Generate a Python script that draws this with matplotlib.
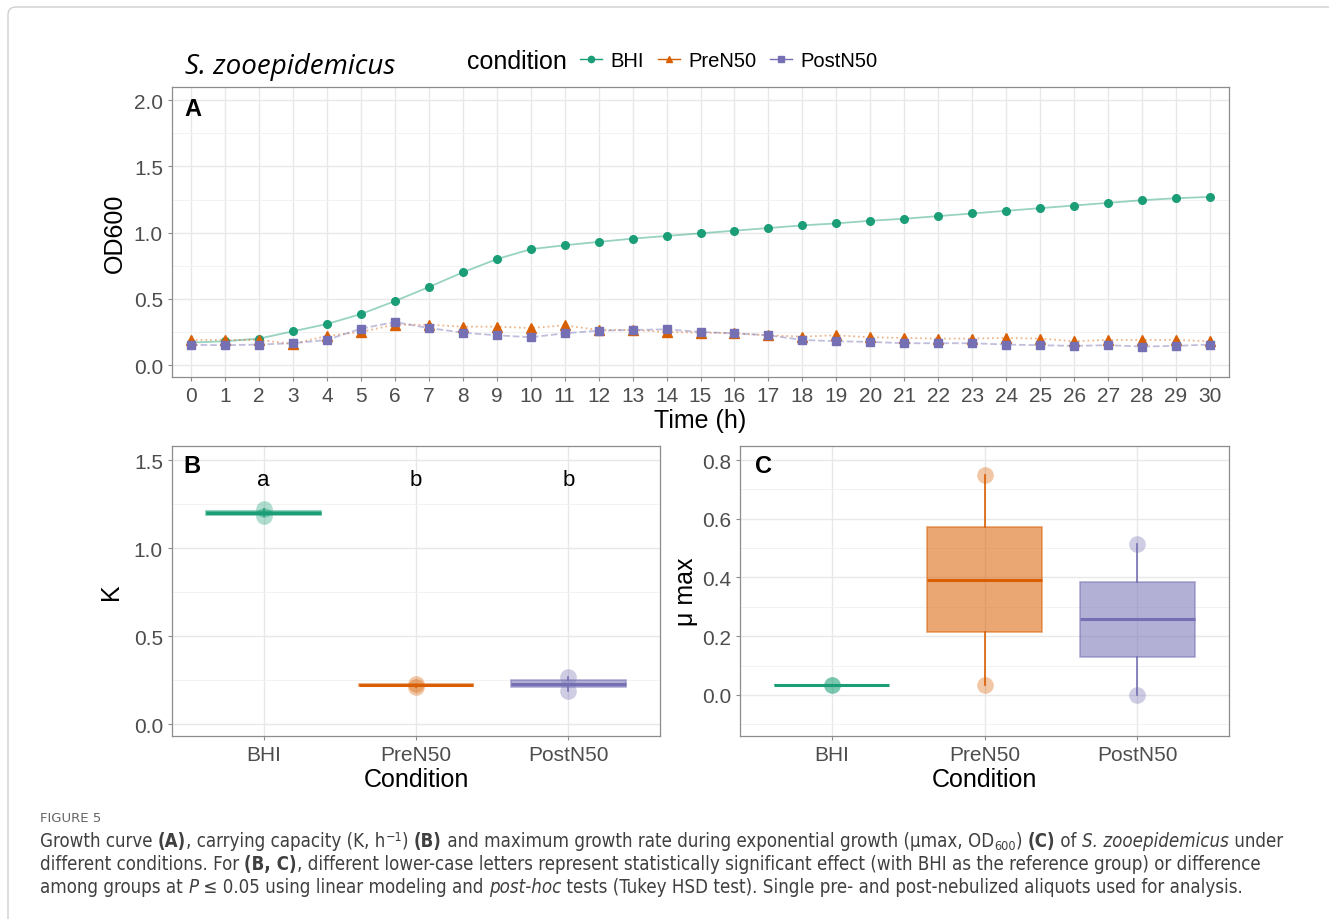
import numpy as np
import matplotlib.pyplot as plt
from matplotlib.lines import Line2D
from matplotlib.patches import FancyBboxPatch
from matplotlib.ticker import MultipleLocator
from matplotlib.transforms import IdentityTransform

plt.rcParams['font.family'] = ['Liberation Sans', 'DejaVu Sans']

# growth curve (panel A)
time_h = list(range(31))
od_bhi = [0.17, 0.18, 0.20, 0.255, 0.31, 0.385, 0.483, 0.589, 0.70, 0.80, 0.875,
          0.905, 0.93, 0.955, 0.975, 0.995, 1.015, 1.035, 1.055, 1.07, 1.09, 1.105,
          1.125, 1.145, 1.165, 1.185, 1.205, 1.225, 1.245, 1.26, 1.27]
od_pre = [0.19, 0.19, 0.19, 0.16, 0.22, 0.25, 0.305, 0.305, 0.29, 0.29, 0.28,
          0.30, 0.265, 0.265, 0.25, 0.245, 0.24, 0.225, 0.215, 0.225, 0.21, 0.205,
          0.20, 0.20, 0.205, 0.20, 0.18, 0.19, 0.19, 0.19, 0.18]
od_post = [0.153, 0.15, 0.155, 0.165, 0.19, 0.275, 0.325, 0.28, 0.245, 0.225, 0.21,
           0.24, 0.26, 0.265, 0.27, 0.25, 0.24, 0.225, 0.19, 0.18, 0.175, 0.165,
           0.165, 0.165, 0.155, 0.15, 0.145, 0.15, 0.14, 0.145, 0.155]

# carrying capacity K (panel B) and mu max (panel C), two aliquots each
conditions = ['BHI', 'PreN50', 'PostN50']
k_bhi = [1.18, 1.22]
k_pre = [0.21, 0.23]
k_post = [0.19, 0.27]
k_letters = ['a', 'b', 'b']
mu_bhi = [0.035, 0.035]
mu_pre = [0.035, 0.75]
mu_post = [0.0, 0.515]

colors = ['#1B9E77', '#D95F02', '#7570B3']
markers = ['o', '^', 's']
lstyles = ['-', ':', '--']

W, H = 1329, 920
fig = plt.figure(figsize=(W / 100, H / 100), dpi=100)


def px_axes(l, t, r, b):
    return fig.add_axes([l / W, 1 - b / H, (r - l) / W, (b - t) / H])


def style(ax):
    for s in ax.spines.values():
        s.set_color('#8c8c8c')
        s.set_linewidth(0.9)
    ax.tick_params(which='major', length=3, width=0.8, color='#8c8c8c',
                   labelcolor='#4d4d4d', labelsize=15)
    ax.tick_params(which='minor', length=0)
    ax.grid(which='major', color='#e8e8e8', lw=1.0)
    ax.grid(which='minor', axis='y', color='#f2f2f2', lw=0.7)
    ax.set_axisbelow(True)


# ---- panel A
axA = px_axes(172, 88, 1229, 378)
series = [od_bhi, od_pre, od_post]
for vals, c, m, ls in zip(series, colors, markers, lstyles):
    axA.plot(time_h, vals, color=c, ls=ls, lw=1.3, alpha=0.45)
    axA.plot(time_h, vals, color=c, ls='none', marker=m,
             markersize=5.5 if m != '^' else 6.5)
axA.set_xlim(-0.56, 30.56)
axA.set_ylim(-0.09, 2.1)
axA.set_xticks(time_h)
axA.set_yticks([0, 0.5, 1.0, 1.5, 2.0])
axA.set_yticklabels(['0.0', '0.5', '1.0', '1.5', '2.0'])
axA.yaxis.set_minor_locator(MultipleLocator(0.25))
style(axA)
axA.set_xlabel('Time (h)', fontsize=18, labelpad=2)
axA.set_ylabel('OD600', fontsize=18, labelpad=5)
axA.text(0.012, 0.925, 'A', transform=axA.transAxes, fontsize=17,
         fontweight='bold', va='center')

# ---- panels B and C
pos = [1, 2, 3]


def box_panel(ax, groups):
    for p, d, c in zip(pos, groups, colors):
        ax.boxplot([d], positions=[p], widths=0.75, patch_artist=True,
                   showcaps=False, showfliers=False,
                   boxprops=dict(facecolor=c, edgecolor=c, alpha=0.55, lw=1.2),
                   medianprops=dict(color=c, lw=2.2),
                   whiskerprops=dict(color=c, lw=1.2))
        ax.plot([p] * len(d), d, ls='none', marker='o', markersize=12,
                color=c, alpha=0.35, markeredgewidth=0)
    ax.set_xlim(0.4, 3.6)
    ax.set_xticks(pos)
    ax.set_xticklabels(conditions)
    style(ax)
    ax.set_xlabel('Condition', fontsize=18, labelpad=2)


axB = px_axes(172, 447, 660, 737)
box_panel(axB, [k_bhi, k_pre, k_post])
axB.set_ylim(-0.068, 1.58)
axB.set_yticks([0, 0.5, 1.0, 1.5])
axB.set_yticklabels(['0.0', '0.5', '1.0', '1.5'])
axB.yaxis.set_minor_locator(MultipleLocator(0.25))
axB.set_ylabel('K', fontsize=18, labelpad=8)
for p, lt in zip(pos, k_letters):
    axB.text(p, 1.39, lt, ha='center', va='center', fontsize=16)
axB.text(0.023, 0.934, 'B', transform=axB.transAxes, fontsize=17,
         fontweight='bold', va='center')

axC = px_axes(740, 447, 1229, 737)
box_panel(axC, [mu_bhi, mu_pre, mu_post])
axC.set_ylim(-0.14, 0.848)
axC.set_yticks([0, 0.2, 0.4, 0.6, 0.8])
axC.set_yticklabels(['0.0', '0.2', '0.4', '0.6', '0.8'])
axC.yaxis.set_minor_locator(MultipleLocator(0.1))
axC.set_ylabel('\u03bc max', fontsize=18, labelpad=3)
axC.text(0.031, 0.934, 'C', transform=axC.transAxes, fontsize=17,
         fontweight='bold', va='center')

# ---- title and legend
fig.text(185 / W, 1 - 67 / H, 'S. zooepidemicus', family=['Open Sans', 'DejaVu Sans'],
         fontstyle='italic', fontsize=20, va='center')
fig.text(467 / W, 1 - 62 / H, 'condition', fontsize=18, va='center')
handles = [Line2D([], [], color=c, marker=m, ls='-', lw=1, markersize=4.5)
           for c, m in zip(colors, markers)]
fig.legend(handles, conditions, ncol=3, loc='center left',
           bbox_to_anchor=(580 / W, 1 - 62 / H), frameon=False, fontsize=14.5,
           handlelength=1.1, handletextpad=0.4, columnspacing=0.7,
           borderpad=0, borderaxespad=0)

# ---- outer frame
frame = FancyBboxPatch((8, -10), 1350, H - 8 + 10, boxstyle='round,pad=0,rounding_size=8',
                       transform=IdentityTransform(), fill=False,
                       edgecolor='#cfcfcf', lw=1.0)
fig.patches.append(frame)

# ---- caption
cap_font = ['DejaVu Sans']
renderer = fig.canvas.get_renderer()


def measure(txt, kw):
    t1 = fig.text(0, 0, txt + '|', **kw)
    t2 = fig.text(0, 0, '|', **kw)
    w = t1.get_window_extent(renderer).width - t2.get_window_extent(renderer).width
    t1.remove()
    t2.remove()
    return w


def seg_kw(st, size):
    kw = dict(fontsize=size, color='#404040', family=cap_font, fontstretch='condensed',
              transform=IdentityTransform(), va='baseline')
    dy = 0
    if st == 'b':
        kw['fontweight'] = 'bold'
    elif st == 'i':
        kw['fontstyle'] = 'italic'
    elif st == 'sup':
        kw['fontsize'] = size * 0.68
        dy = 6
    elif st == 'sub':
        kw['fontsize'] = size * 0.68
        dy = -3
    return kw, dy


def line_width(parts, size):
    return sum(measure(txt, seg_kw(st, size)[0]) for txt, st in parts)


def caption_line(y_img, parts, size, x0=40):
    x = x0
    y = H - y_img
    for txt, st in parts:
        kw, dy = seg_kw(st, size)
        fig.text(x, y + dy, txt, **kw)
        x += measure(txt, kw)


line1 = [('Growth curve ', ''), ('(A)', 'b'), (', carrying capacity (K, h', ''),
         ('\u22121', 'sup'), (') ', ''), ('(B)', 'b'),
         (' and maximum growth rate during exponential growth (\u03bcmax, OD', ''),
         ('600', 'sub'), (') ', ''), ('(C)', 'b'), (' of ', ''),
         ('S. zooepidemicus', 'i'), (' under', '')]
line2 = [('different conditions. For ', ''), ('(B, C)', 'b'),
         (', different lower-case letters represent statistically significant effect '
          '(with BHI as the reference group) or difference', '')]
line3 = [('among groups at ', ''), ('P', 'i'),
         (' \u2264 0.05 using linear modeling and ', ''), ('post-hoc', 'i'),
         (' tests (Tukey HSD test). Single pre- and post-nebulized aliquots used for analysis.', '')]

# fit the first caption line to the width it has in the figure
cap_size = 12.0 * 1243 / line_width(line1, 12.0)

fig.text(40, H - 822, 'FIGURE 5', family=cap_font, fontsize=9.5, color='#666666',
         transform=IdentityTransform(), va='baseline')
caption_line(847, line1, cap_size)
caption_line(870, line2, cap_size)
caption_line(893, line3, cap_size)

fig.savefig('out.png', dpi=100)
